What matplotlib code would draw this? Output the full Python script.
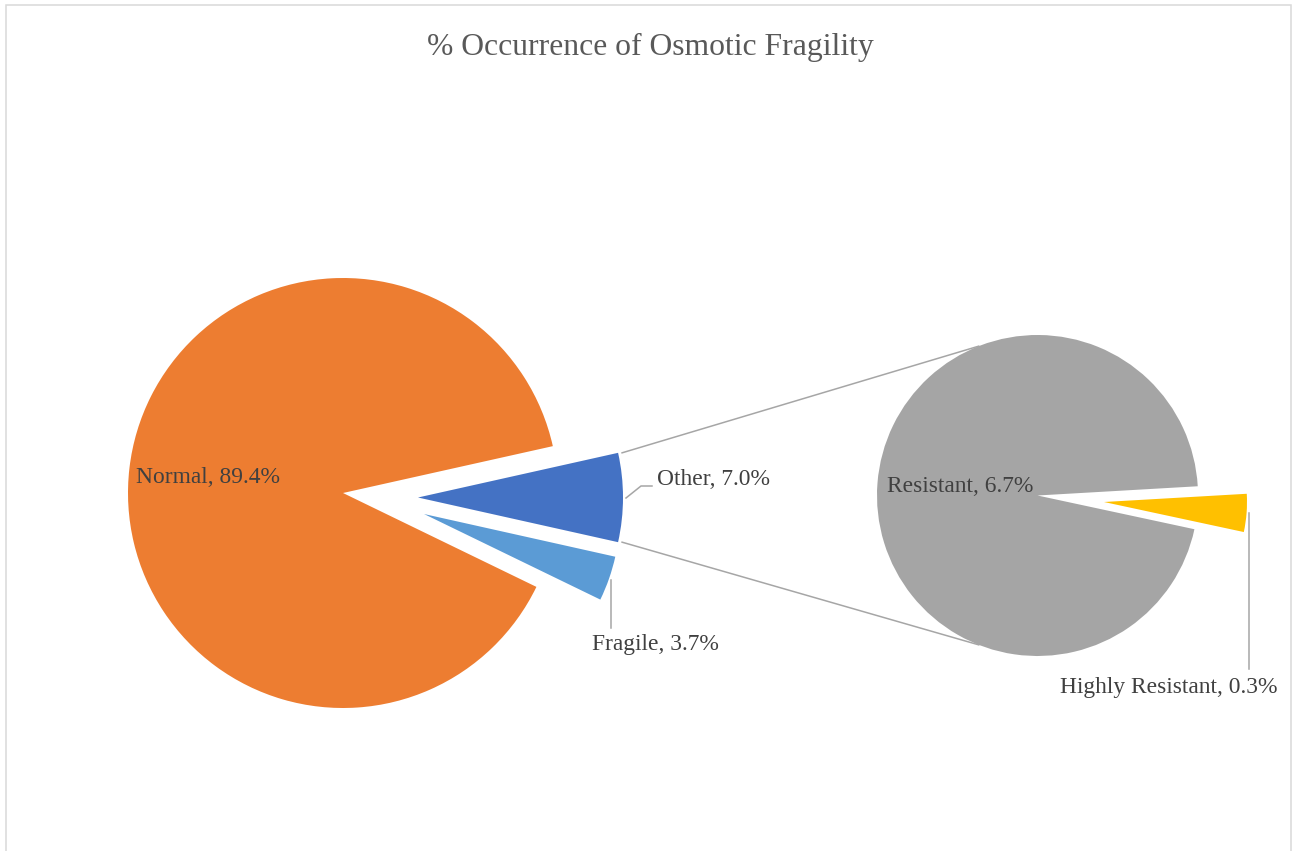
import matplotlib.pyplot as plt
import numpy as np
from matplotlib.patches import Rectangle

plt.rcParams["font.family"] = ["Liberation Serif", "DejaVu Serif"]

# main pie
main_labels = ["Other", "Fragile", "Normal"]
main_values = [7.0, 3.7, 89.4]
main_colors = ["#4472C4", "#5B9BD5", "#ED7D31"]

# breakdown of "Other"
sub_labels = ["Highly Resistant", "Resistant"]
sub_values = [0.3, 6.7]
sub_colors = ["#FFC000", "#A5A5A5"]

W, H = 1298, 851
LINE = "#A6A6A6"
TXT = "#404040"

fig = plt.figure(figsize=(W / 100, H / 100), dpi=100)
ax = fig.add_axes([0, 0, 1, 1])


def py(y):
    # pixel rows counted from the top
    return H - y


# explode is in data units (pixels here)
main_start = main_values[0] / sum(main_values) * 360 / 2
wedges_main, _ = ax.pie(
    main_values, colors=main_colors, center=(343, py(493)), radius=215,
    startangle=main_start, counterclock=False, explode=[75, 84, 0],
    frame=True, wedgeprops=dict(linewidth=0),
)
# pulled-out slices sit a little lower and are drawn smaller
wedges_main[0].set_center((418, py(497.5)))
wedges_main[0].set_radius(205)
wedges_main[1].set_center((424, py(514)))
wedges_main[1].set_radius(196)

sub_start = 3.3
wedges_sub, _ = ax.pie(
    sub_values, colors=sub_colors, center=(1037.5, py(495.5)), radius=160.5,
    startangle=sub_start, counterclock=False, explode=[67, 0],
    frame=True, wedgeprops=dict(linewidth=0),
)
wedges_sub[0].set_center((1104, py(502)))
wedges_sub[0].set_radius(143)

# connector lines between the "Other" slice and the second pie
other = wedges_main[0]
sub_c = wedges_sub[1].center
sub_r = wedges_sub[1].r
for th_o, th_s in [(other.theta2, 111.5), (other.theta1, -111.5)]:
    x0 = other.center[0] + other.r * np.cos(np.radians(th_o))
    y0 = other.center[1] + other.r * np.sin(np.radians(th_o))
    x1 = sub_c[0] + sub_r * np.cos(np.radians(th_s))
    y1 = sub_c[1] + sub_r * np.sin(np.radians(th_s))
    ax.plot([x0 + 4, x1], [y0, y1], color=LINE, lw=1.1)

fs = 16.9
ax.text(136, py(483), f"{main_labels[2]}, {main_values[2]:.1f}%", fontsize=fs,
        color=TXT, ha="left", va="baseline")
ax.text(657, py(485), f"{main_labels[0]}, {main_values[0]:.1f}%", fontsize=fs,
        color=TXT, ha="left", va="baseline")
ax.plot([626, 641, 652], [py(498), py(486), py(486)], color=LINE, lw=1.1)
ax.text(655.5, py(650), f"{main_labels[1]}, {main_values[1]:.1f}%", fontsize=fs,
        color=TXT, ha="center", va="baseline")
ax.plot([611, 611], [py(580), py(628)], color=LINE, lw=1.1)

ax.text(887, py(492), f"{sub_labels[1]}, {sub_values[1]:.1f}%", fontsize=fs,
        color=TXT, ha="left", va="baseline")
ax.text(1168.5, py(693), f"{sub_labels[0]}, {sub_values[0]:.1f}%", fontsize=fs,
        color=TXT, ha="center", va="baseline")
ax.plot([1249, 1249], [py(513), py(669)], color=LINE, lw=1.1)

ax.text(650, py(55), "% Occurrence of Osmotic Fragility", fontsize=22.8,
        color="#595959", ha="center", va="baseline")

# chart area border
ax.add_patch(Rectangle((6, py(900)), 1285, 895, fill=False,
                       edgecolor="#D9D9D9", lw=1.1))

ax.set_xlim(0, W)
ax.set_ylim(0, H)
ax.set_aspect("auto")
ax.axis("off")

fig.savefig("out.png", dpi=100)
